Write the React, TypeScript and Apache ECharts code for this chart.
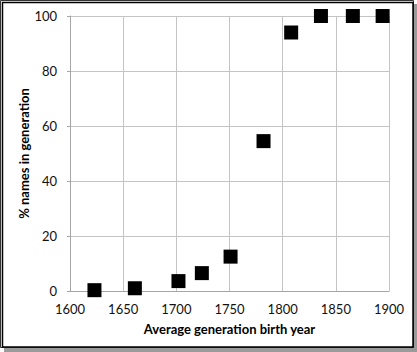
import React, { useEffect, useRef } from "react";
import * as echarts from "echarts";

const years: number[] = [1623, 1661, 1702, 1724, 1751, 1782, 1808, 1836, 1866, 1894];
const percents: number[] = [0.3, 1, 3.6, 6.5, 12.5, 54.5, 94, 100, 100, 100];
const xTitle = "Average generation birth year";
const yTitle = "% names in generation";

export default function App() {
  const ref = useRef<HTMLDivElement>(null);
  useEffect(() => {
    if (!ref.current) return;
    const chart = echarts.init(ref.current, undefined, { renderer: "svg" });
    const font = "Lato, 'Open Sans', sans-serif";
    chart.setOption({
      animation: false,
      backgroundColor: "#fff",
      graphic: [
        { type: "rect", z: -10, shape: { x: 4, y: 4, width: 413, height: 348 }, style: { fill: "#9a9a9a" }, silent: true },
        { type: "rect", z: -9, shape: { x: 0.5, y: 0.5, width: 413, height: 347 }, style: { fill: "#fff", stroke: "#333", lineWidth: 1 }, silent: true },
        { type: "rect", z: -8, shape: { x: 2.5, y: 2.5, width: 410.5, height: 344.5 }, style: { fill: "#fff", stroke: "#000", lineWidth: 1.5 }, silent: true },
      ],
      grid: { left: 70, right: 28, top: 16, bottom: 61, containLabel: false },
      xAxis: {
        type: "value",
        min: 1600,
        max: 1900,
        interval: 50,
        name: xTitle,
        nameLocation: "middle",
        nameGap: 31,
        nameMoveOverlap: false,
        nameTextStyle: { fontFamily: font, fontWeight: "bold", fontSize: 13, color: "#000" },
        axisLine: { show: true, onZero: false, lineStyle: { color: "#a6a6a6", width: 1 } },
        axisTick: { show: false },
        axisLabel: { fontFamily: font, fontSize: 13, color: "#111", margin: 11, formatter: (v: number) => String(v) },
        splitLine: { show: true, lineStyle: { color: "#c4c4c4", width: 1 } },
      },
      yAxis: {
        type: "value",
        min: 0,
        max: 100,
        interval: 20,
        name: yTitle,
        nameLocation: "middle",
        nameGap: 40,
        nameMoveOverlap: false,
        nameRotate: 90,
        nameTextStyle: { fontFamily: font, fontWeight: "bold", fontSize: 13, color: "#000" },
        axisLine: { show: true, lineStyle: { color: "#a6a6a6", width: 1 } },
        axisTick: { show: true, length: 3, lineStyle: { color: "#a6a6a6" } },
        axisLabel: { fontFamily: font, fontSize: 13, color: "#111", margin: 13 },
        splitLine: { show: true, lineStyle: { color: "#c4c4c4", width: 1 } },
      },
      series: [
        {
          type: "scatter",
          symbol: "rect",
          symbolSize: 14,
          itemStyle: { color: "#000", opacity: 1 },
          data: years.map((y, i) => [y, percents[i]]),
        },
      ],
    });
    return () => chart.dispose();
  }, []);
  return <div ref={ref} style={{ position: "fixed", left: 0, top: 0, width: 417, height: 352 }} />;
}
